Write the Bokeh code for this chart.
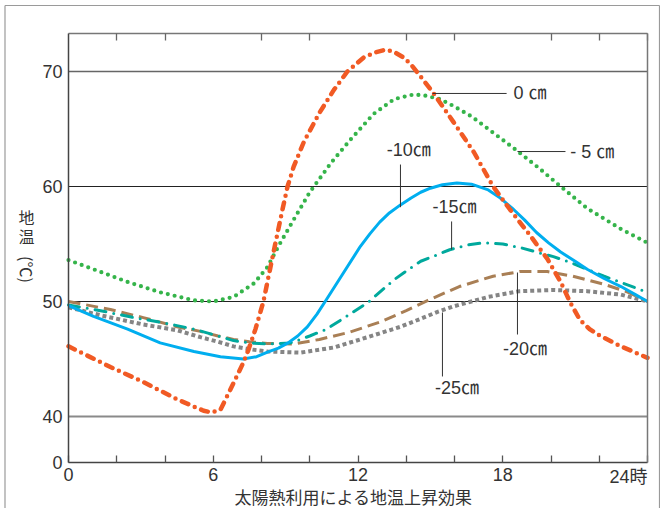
import math
from bokeh.plotting import figure
from bokeh.models import Range1d, FixedTicker, LinearAxis, Label
from bokeh.embed import file_html
from bokeh.resources import INLINE

# ---- data (hours, soil temperature in deg C) ----
h_0cm = [0, 1.74, 3.1, 4.5, 5.6, 5.95, 6.3, 6.7, 7.25, 7.46, 7.75, 8.08, 8.5, 8.87, 9.08, 9.33, 9.76,
         10.4, 11.0, 11.56, 12.23, 12.7, 13.14, 13.5, 13.9, 14.2, 14.47, 15.1, 15.96, 16.8, 17.6, 18.3,
         19.15, 19.85, 20.4, 20.8, 21.2, 21.6, 22.05, 22.9, 24]
t_0cm = [46.1, 44.3, 43.0, 41.5, 40.5, 40.35, 40.6, 42.3, 44.7, 45.8, 47.6, 50.0, 54.3, 58.0, 60.0, 61.7, 63.9,
         66.4, 68.4, 70.0, 71.2, 71.65, 71.9, 71.7, 71.2, 70.6, 69.9, 68.2, 65.6, 63.0, 60.0, 58.0,
         55.7, 53.7, 51.7, 49.9, 48.4, 47.6, 47.0, 46.1, 45.1]

h_5cm = [0, 1.04, 2.45, 3.8, 5.2, 6.0, 6.85, 7.7, 8.25, 8.7, 9.33, 10.0, 10.9, 11.7, 12.64, 13.5, 14.3,
         14.8, 15.4, 15.96, 16.7, 17.4, 18.6, 19.5, 20.4, 21.5, 22.9, 24]
t_5cm = [53.6, 52.8, 51.7, 50.8, 50.1, 50.0, 50.4, 51.6, 53.0, 54.8, 57.1, 59.5, 62.1, 64.1, 66.3, 67.6, 68.0,
         67.9, 67.6, 67.0, 66.1, 65.0, 63.1, 61.6, 60.0, 58.1, 56.3, 55.1]

h_10cm = [0, 1.04, 2.45, 3.8, 5.2, 6.3, 7.25, 7.8, 8.25, 8.7, 9.1, 9.5, 9.9, 10.3, 10.7, 11.4, 12.1, 12.5,
          12.9, 13.3, 13.76, 14.2, 14.6, 15.0, 15.5, 16.1, 16.7, 17.4, 17.9, 18.45, 18.9, 19.4, 19.9,
          20.4, 21.0, 21.5, 22.2, 22.9, 23.5, 24]
t_10cm = [49.65, 48.7, 47.6, 46.4, 45.65, 45.2, 45.0, 45.2, 45.6, 45.95, 46.4, 47.0, 47.8, 48.9, 50.2, 52.5,
          54.8, 55.9, 56.9, 57.7, 58.4, 59.0, 59.5, 59.85, 60.15, 60.3, 60.2, 59.7, 59.0, 58.0, 57.1, 56.0,
          55.1, 54.3, 53.5, 52.8, 52.0, 51.3, 50.6, 50.0]

h_15cm = [0, 1.33, 2.7, 3.8, 5.2, 6.2, 6.84, 7.5, 8.25, 9.2, 10.0, 10.7, 11.3, 12.4, 13.5, 14.1, 14.6, 15.2,
          15.8, 16.5, 17.2, 18.0, 18.7, 19.4, 20.1, 20.8, 21.5, 22.2, 22.9, 24]
t_15cm = [49.7, 49.2, 48.6, 48.2, 47.6, 47.0, 46.6, 46.4, 46.3, 46.4, 47.0, 47.6, 48.4, 49.9, 51.9, 52.8, 53.5,
          54.0, 54.5, 54.9, 55.1, 55.0, 54.7, 54.3, 53.9, 53.4, 52.8, 52.2, 51.65, 50.8]

h_20cm = [0, 1.74, 3.1, 4.5, 5.47, 6.2, 6.84, 7.5, 8.25, 9.3, 10.4, 11.6, 12.9, 14.0, 14.9, 16.2, 17.6, 18.7,
          19.85, 20.9, 22.2, 23.2, 24]
t_20cm = [50.0, 49.3, 48.6, 47.8, 47.4, 47.0, 46.7, 46.5, 46.35, 46.3, 46.7, 47.3, 48.2, 49.2, 50.1, 51.3, 52.2,
          52.6, 52.6, 52.2, 51.5, 50.8, 50.0]

h_25cm = [0, 1.33, 3.1, 4.5, 5.47, 6.2, 6.84, 7.5, 8.25, 9.6, 11.0, 12.4, 13.76, 14.6, 15.3, 16.0, 17.4, 18.7,
          20.1, 21.5, 22.9, 24]
t_25cm = [49.5, 48.8, 48.0, 47.5, 46.9, 46.5, 46.1, 45.85, 45.65, 45.55, 46.0, 46.9, 47.8, 48.5, 49.1, 49.6,
          50.4, 50.9, 51.0, 50.9, 50.6, 50.0]

x_major = [0, 6, 12, 18]
x_minor = [2, 4, 8, 10, 14, 16, 20, 22, 24]
x_labels = {0: "0", 6: "6", 12: "12", 18: "18"}
x_unit = "24時"
y_ticks = [36, 40, 50, 60, 70]
y_labels = {36: "0", 40: "40", 50: "50", 60: "60", 70: "70"}
y_grid = [40, 50, 60, 70]
series_labels = ["0 ㎝", "- 5 ㎝", "-10㎝", "-15㎝", "-20㎝", "-25㎝"]
x_title = "太陽熱利用による地温上昇効果"
y_title = ["地", "温", "(℃)"]

# ---- layout: plot area in pixels ----
W, H = 660, 508
X0, X1, Y0, Y1 = 0, 24, 36, 73.3          # plot-area bounds in data units
FL, FR, FB = 68, 647, 462                 # plot-area left/right/bottom in pixels
PXX = (FR - FL) / (X1 - X0)
PXY = 11.5


def dx(px):
    return X0 + (px - FL) / PXX


def dy(py):
    return Y0 + (FB - py) / PXY


FONT = "Liberation Sans Narrow, Liberation Sans, Noto Sans CJK JP, sans-serif"
CJK = "Noto Sans CJK JP, sans-serif"
TXT = "#333333"

p = figure(width=W, height=H, output_backend="svg", toolbar_location=None,
           x_range=Range1d(dx(0), dx(W)), y_range=Range1d(dy(H), dy(0)),
           min_border=0, x_axis_type=None, y_axis_type=None)
p.grid.visible = False
p.outline_line_color = None
p.background_fill_color = "white"
p.border_fill_color = "white"

# outer border (open at the bottom)
bx0, bx1, by1 = dx(4.5), dx(659), dy(5)
p.segment(x0=[bx0, bx0, bx1], y0=[dy(H), by1, by1], x1=[bx0, bx1, bx1], y1=[by1, by1, dy(H)],
          line_color="#9a9a9a", line_width=1.2)

# grid lines
grid_cols = ["#8a8a8a", "#222222", "#222222", "#666666"]
grid_w = [2, 1.2, 1.2, 1.5]
p.segment(x0=[X0] * len(y_grid), y0=y_grid, x1=[X1] * len(y_grid), y1=y_grid,
          line_color=grid_cols, line_width=grid_w)

# bottom axis
xa = LinearAxis(fixed_location=Y0, bounds=(X0, X1),
                ticker=FixedTicker(ticks=x_major, minor_ticks=x_minor))
xa.major_label_overrides = x_labels
for pre in ("major", "minor"):
    setattr(xa, pre + "_tick_in", 7)
    setattr(xa, pre + "_tick_out", 0)
    setattr(xa, pre + "_tick_line_color", "#555555")
    setattr(xa, pre + "_tick_line_width", 1.3)
xa.axis_line_color = "#444444"
xa.axis_line_width = 1.5
xa.major_label_standoff = 5
xa.major_label_text_font = FONT
xa.major_label_text_font_size = "18px"
xa.major_label_text_color = TXT
p.add_layout(xa, "below")

# top frame with ticks
ta = LinearAxis(fixed_location=Y1, bounds=(X0, X1),
                ticker=FixedTicker(ticks=[], minor_ticks=x_minor))
ta.minor_tick_in = 7
ta.minor_tick_out = 0
ta.minor_tick_line_color = "#666666"
ta.minor_tick_line_width = 1.3
ta.axis_line_color = "#777777"
ta.axis_line_width = 1.5
p.add_layout(ta, "above")

# right frame
ra = LinearAxis(fixed_location=X1, bounds=(Y0, Y1), ticker=FixedTicker(ticks=[]))
ra.minor_tick_line_color = None
ra.axis_line_color = "#777777"
ra.axis_line_width = 1.5
p.add_layout(ra, "right")

# left axis
ya = LinearAxis(fixed_location=X0, bounds=(Y0, Y1), ticker=FixedTicker(ticks=y_ticks))
ya.major_label_overrides = y_labels
ya.major_tick_in = 0
ya.major_tick_out = 0
ya.minor_tick_line_color = None
ya.axis_line_color = "#444444"
ya.axis_line_width = 1.5
ya.major_label_standoff = 6
ya.major_label_text_font = FONT
ya.major_label_text_font_size = "18px"
ya.major_label_text_color = TXT
p.add_layout(ya, "left")

# curves
p.line(h_25cm, t_25cm, line_color="#858585", line_width=4, line_dash="4 3")
p.line(h_20cm, t_20cm, line_color="#a97f55", line_width=3, line_dash="12 6")
p.line(h_15cm, t_15cm, line_color="#00a99d", line_width=3, line_dash="11 8 0 8", line_cap="round")
p.line(h_10cm, t_10cm, line_color="#00aeef", line_width=3, line_join="round")
p.line(h_5cm, t_5cm, line_color="#35b44a", line_width=4.2, line_dash="0 7", line_cap="round")
p.line(h_0cm, t_0cm, line_color="#f15a24", line_width=4.5, line_dash="7 7 0 7", line_cap="round",
       line_join="round")

# leader lines
p.segment(x0=[15.09, 18.61, 13.76, 15.88, 18.61, 15.5],
          y0=[68.09, 63.04, 61.91, 56.96, 52.52, 49.04],
          x1=[18.16, 20.6, 13.76, 15.88, 18.61, 15.5],
          y1=[68.09, 63.04, 58.2, 54.52, 47.13, 43.48],
          line_color="#333333", line_width=1)

label_pos = [(18.45, 68.1, "left"), (20.8, 63.04, "left"), (14.1, 63.2, "center"),
             (16.0, 58.26, "center"), (18.92, 45.83, "center"), (16.1, 42.52, "center")]
for (lx, ly, al), txt in zip(label_pos, series_labels):
    p.add_layout(Label(x=lx, y=ly, text=txt, text_align=al, text_baseline="middle",
                       text_font=FONT, text_font_size="18px", text_color=TXT))

# "24時" tick label, right-aligned to the plot edge
p.add_layout(Label(x=X1, y=dy(476), text=x_unit, text_align="right", text_baseline="middle",
                   text_font=FONT, text_font_size="18px", text_color=TXT))

# bottom title
p.add_layout(Label(x=dx(353), y=dy(496), text=x_title, text_align="center", text_baseline="middle",
                   text_font=CJK, text_font_size="17px", text_color=TXT))

# vertical y-axis title
for ch, py, ang in zip(y_title, [216, 235, 269], [0, 0, -math.pi / 2]):
    p.add_layout(Label(x=dx(26), y=dy(py), text=ch, text_align="center", text_baseline="middle",
                       angle=ang, text_font=CJK, text_font_size="16px", text_color=TXT))

open("out.html", "w").write(file_html(p, INLINE))
